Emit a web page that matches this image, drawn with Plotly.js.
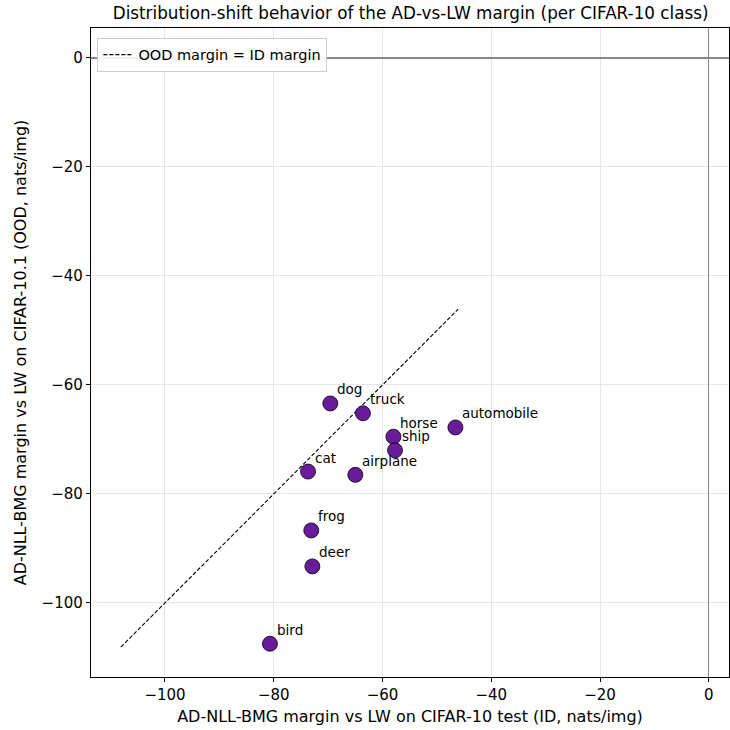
<!DOCTYPE html>
<html><head><meta charset="utf-8">
<script src="https://cdn.plot.ly/plotly-3.0.1.min.js"></script>
<style>html,body{margin:0;padding:0;background:#fff}</style>
</head><body><div id="chart" style="width:730px;height:730px"></div>
<script>
const classes = ["airplane","automobile","bird","cat","deer","dog","frog","horse","ship","truck"];
const idMargin = [-65.0,-46.6,-80.7,-73.7,-72.9,-69.6,-73.1,-58.0,-57.7,-63.6];
const oodMargin = [-76.5,-67.8,-107.5,-75.9,-93.3,-63.4,-86.7,-69.5,-72.0,-65.2];
const diagRange = [-108.1,-46.1];

const font = "DejaVu Sans, sans-serif";
const traces = [
  {x: diagRange, y: diagRange, mode: "lines", name: "OOD margin = ID margin",
   line: {color: "#000", dash: "4px,2px", width: 1.1}, hoverinfo: "skip"},
  {x: idMargin, y: oodMargin, mode: "markers", showlegend: false, text: classes,
   marker: {color: "#6a1b9a", size: 15, line: {color: "#000", width: 0.8}}}
];
const annotations = classes.map((c, i) => ({
  x: idMargin[i], y: oodMargin[i], text: c, showarrow: false,
  xanchor: "left", yanchor: "bottom", xshift: 5, yshift: 4,
  font: {family: font, size: 13.5, color: "#000"}
}));
const layout = {
  width: 730, height: 730,
  margin: {l: 91, r: 1, t: 28, b: 53},
  paper_bgcolor: "#fff", plot_bgcolor: "#fff",
  font: {family: font, color: "#000"},
  title: {text: "Distribution-shift behavior of the AD-vs-LW margin (per CIFAR-10 class)",
          font: {family: font, size: 16.8}, x: 0.5625, xanchor: "center", y: 0.982, yanchor: "middle"},
  xaxis: {range: [-113.6, 3.7], tickvals: [-100,-80,-60,-40,-20,0],
          ticktext: ["\u2212100","\u221280","\u221260","\u221240","\u221220","0"],
          ticks: "outside", ticklen: 4, tickcolor: "#000", tickfont: {size: 15},
          showgrid: true, gridcolor: "#e6e6e6", gridwidth: 1,
          zeroline: true, zerolinecolor: "#888888", zerolinewidth: 1.1,
          showline: true, linecolor: "#000", linewidth: 1.2, mirror: true,
          title: {text: "AD-NLL-BMG margin vs LW on CIFAR-10 test (ID, nats/img)", font: {size: 16}, standoff: 7}},
  yaxis: {range: [-113.6, 5.5], tickvals: [0,-20,-40,-60,-80,-100],
          ticktext: ["0","\u221220","\u221240","\u221260","\u221280","\u2212100"],
          ticks: "outside", ticklen: 4, tickcolor: "#000", tickfont: {size: 15},
          showgrid: true, gridcolor: "#e6e6e6", gridwidth: 1,
          zeroline: true, zerolinecolor: "#888888", zerolinewidth: 1.1,
          showline: true, linecolor: "#000", linewidth: 1.2, mirror: true,
          title: {text: "AD-NLL-BMG margin vs LW on CIFAR-10.1 (OOD, nats/img)", font: {size: 16}, standoff: 11}},
  legend: {x: 0.01, y: 0.985, xanchor: "left", yanchor: "top",
           bgcolor: "rgba(255,255,255,0.9)", bordercolor: "#cccccc", borderwidth: 1,
           font: {size: 14.5}, itemwidth: 30},
  annotations: annotations,
  showlegend: true
};
Plotly.newPlot("chart", traces, layout, {displayModeBar: false, staticPlot: true});
</script></body></html>
